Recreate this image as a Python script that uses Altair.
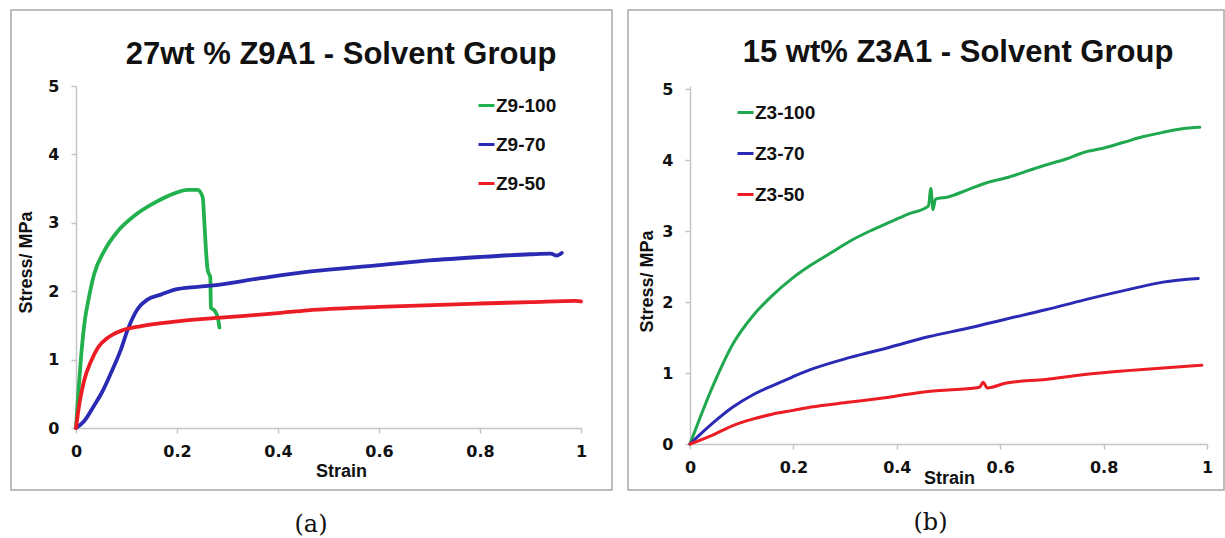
import altair as alt
import pandas as pd

# ---------------- Panel (a) ----------------
a_title = "27wt % Z9A1 - Solvent Group"
a_caption = "(a)"
a_series = ["Z9-100", "Z9-70", "Z9-50"]
a_colors = ["#22b14c", "#2a2ab4", "#ec1c24"]

a_z9_100_strain = [0, 0.004, 0.0099, 0.018, 0.023, 0.036, 0.056, 0.083, 0.115, 0.155, 0.195, 0.221,
                   0.241, 0.251, 0.254, 0.257, 0.261, 0.266, 0.267, 0.275, 0.281, 0.284]
a_z9_100_stress = [0, 0.45, 1.03, 1.6, 1.81, 2.25, 2.59, 2.88, 3.10, 3.29, 3.43, 3.48,
                   3.48, 3.37, 3.03, 2.64, 2.30, 2.20, 1.76, 1.71, 1.61, 1.47]

a_z9_70_strain = [0, 0.016, 0.036, 0.052, 0.069, 0.089, 0.102, 0.122, 0.142, 0.168, 0.2, 0.267,
                  0.366, 0.465, 0.6, 0.7, 0.8, 0.9, 0.94, 0.952, 0.962]
a_z9_70_stress = [0, 0.10, 0.33, 0.53, 0.80, 1.15, 1.43, 1.74, 1.88, 1.95, 2.03, 2.08,
                  2.19, 2.29, 2.38, 2.45, 2.50, 2.54, 2.55, 2.52, 2.56]

a_z9_50_strain = [0, 0.0066, 0.016, 0.030, 0.043, 0.063, 0.089, 0.129, 0.201, 0.300, 0.4, 0.459,
                  0.6, 0.8, 0.9, 0.99, 1.0]
a_z9_50_stress = [0, 0.35, 0.69, 0.98, 1.17, 1.32, 1.42, 1.49, 1.56, 1.62, 1.68, 1.72,
                  1.77, 1.82, 1.84, 1.86, 1.85]

# ---------------- Panel (b) ----------------
b_title = "15 wt% Z3A1 - Solvent Group"
b_caption = "(b)"
b_series = ["Z3-100", "Z3-70", "Z3-50"]
b_colors = ["#1fa84e", "#2a2ab4", "#ec1c24"]

b_z3_100_strain = [0, 0.045, 0.083, 0.121, 0.159, 0.197, 0.234, 0.272, 0.310, 0.348, 0.385, 0.423,
                   0.461, 0.466, 0.470, 0.475, 0.499, 0.537, 0.574, 0.612, 0.650, 0.688, 0.726,
                   0.763, 0.801, 0.839, 0.877, 0.915, 0.952, 0.986]
b_z3_100_stress = [0, 0.83, 1.41, 1.80, 2.09, 2.33, 2.52, 2.69, 2.86, 3.00, 3.12, 3.24,
                   3.35, 3.60, 3.30, 3.45, 3.48, 3.58, 3.68, 3.75, 3.84, 3.93, 4.01,
                   4.11, 4.17, 4.25, 4.33, 4.39, 4.44, 4.46]

b_z3_70_strain = [0, 0.045, 0.083, 0.121, 0.159, 0.197, 0.234, 0.310, 0.385, 0.461, 0.537, 0.612,
                  0.688, 0.763, 0.839, 0.915, 0.983]
b_z3_70_stress = [0, 0.30, 0.52, 0.69, 0.82, 0.94, 1.05, 1.22, 1.36, 1.51, 1.63, 1.76,
                  1.89, 2.03, 2.16, 2.28, 2.33]

b_z3_50_strain = [0, 0.045, 0.083, 0.121, 0.159, 0.197, 0.234, 0.310, 0.385, 0.461, 0.499, 0.560,
                  0.567, 0.575, 0.612, 0.688, 0.763, 0.839, 0.915, 0.990]
b_z3_50_stress = [0, 0.13, 0.26, 0.35, 0.42, 0.47, 0.52, 0.59, 0.66, 0.74, 0.76, 0.80,
                  0.87, 0.79, 0.86, 0.91, 0.98, 1.03, 1.07, 1.11]

x_ticks = [0, 0.2, 0.4, 0.6, 0.8, 1]
y_ticks = [0, 1, 2, 3, 4, 5]


def make_df(names, strains, stresses):
    rows = []
    for name, xs, ys in zip(names, strains, stresses):
        for i, (x, y) in enumerate(zip(xs, ys)):
            rows.append({"series": name, "strain": x, "stress": y, "idx": i})
    return pd.DataFrame(rows)


df_a = make_df(a_series, [a_z9_100_strain, a_z9_70_strain, a_z9_50_strain],
               [a_z9_100_stress, a_z9_70_stress, a_z9_50_stress])
df_b = make_df(b_series, [b_z3_100_strain, b_z3_70_strain, b_z3_50_strain],
               [b_z3_100_stress, b_z3_70_stress, b_z3_50_stress])

one = pd.DataFrame({"k": [0]})

FRAME = "#a8a8a8"
TXT = "#111111"


def panel(df, series, colors, title, caption, width, height, ydom, stroke_w,
          frame, title_pos, cap_pos, xt, yt, legend_pos, row_pad):
    lines = alt.Chart(df).mark_line(strokeWidth=stroke_w, strokeJoin="round", strokeCap="round",
                                    interpolate="monotone").encode(
        x=alt.X("strain:Q", scale=alt.Scale(domain=[0, 1], nice=False, zero=True),
                axis=alt.Axis(values=x_ticks, format="~g", title="Strain", labelFlush=False,
                              titleX=xt[0], titleY=xt[1], titleAlign="center", titleBaseline="middle",
                              labelPadding=10)),
        y=alt.Y("stress:Q", scale=alt.Scale(domain=ydom, nice=False, zero=True),
                axis=alt.Axis(values=y_ticks, format="d", title="Stress/ MPa", labelFlush=False,
                              titleX=yt[0], titleY=yt[1], titleAngle=270, titleAlign="center",
                              titleBaseline="middle", labelPadding=12)),
        color=alt.Color("series:N", scale=alt.Scale(domain=series, range=colors),
                        legend=alt.Legend(orient="none", legendX=legend_pos[0], legendY=legend_pos[1],
                                          title=None, symbolType="stroke", symbolSize=256,
                                          symbolStrokeWidth=3, labelFont="Liberation Sans",
                                          labelFontWeight="bold", labelFontSize=19, labelColor=TXT,
                                          rowPadding=row_pad, labelOffset=0, padding=0)),
        order="idx:Q",
    )
    box = alt.Chart(one).mark_rect(fill="white", fillOpacity=0, stroke=FRAME, strokeWidth=1.5).encode(
        x=alt.value(frame[0]), x2=alt.value(frame[1]), y=alt.value(frame[2]), y2=alt.value(frame[3]))
    ttl = alt.Chart(one).mark_text(text=title, font="Liberation Sans", fontWeight="bold", fontSize=31,
                                   align="center", baseline="middle", color=TXT).encode(
        x=alt.value(title_pos[0]), y=alt.value(title_pos[1]))
    cap = alt.Chart(one).mark_text(text=caption, font="DejaVu Serif", fontSize=24,
                                   align="center", baseline="middle", color=TXT).encode(
        x=alt.value(cap_pos[0]), y=alt.value(cap_pos[1]))
    return alt.layer(box, lines, ttl, cap).properties(width=width, height=height)


chart_a = panel(df_a, a_series, a_colors, a_title, a_caption, 505, 342, [0, 5], 3.8,
                (-65, 536, -76, 404), (265, -31), (235, 439), (265, 43), (-50, 176), (401, 10), 19)
chart_b = panel(df_b, b_series, b_colors, b_title, b_caption, 517, 358, [0, 5.0423], 3,
                (-62, 534, -76, 404), (268, -33), (240.5, 437), (259, 34), (-43, 195), (46, 17), 21)

chart = alt.hconcat(chart_a, chart_b, spacing=14).resolve_scale(color="independent").properties(
    padding={"left": 10, "top": 9, "right": 0, "bottom": 0},
    background="white",
).configure_view(stroke=None).configure_axis(
    grid=False,
    domainColor="#c4c4c4", domainWidth=1.5,
    tickColor="#c4c4c4", tickWidth=1.5, tickSize=5,
    labelFont="DejaVu Sans", labelFontWeight="bold", labelFontSize=16, labelColor=TXT,
    titleFont="Liberation Sans", titleFontWeight="bold", titleFontSize=18, titleColor=TXT,
)

chart.save("out.html", embed_options={"renderer": "svg", "actions": False})
